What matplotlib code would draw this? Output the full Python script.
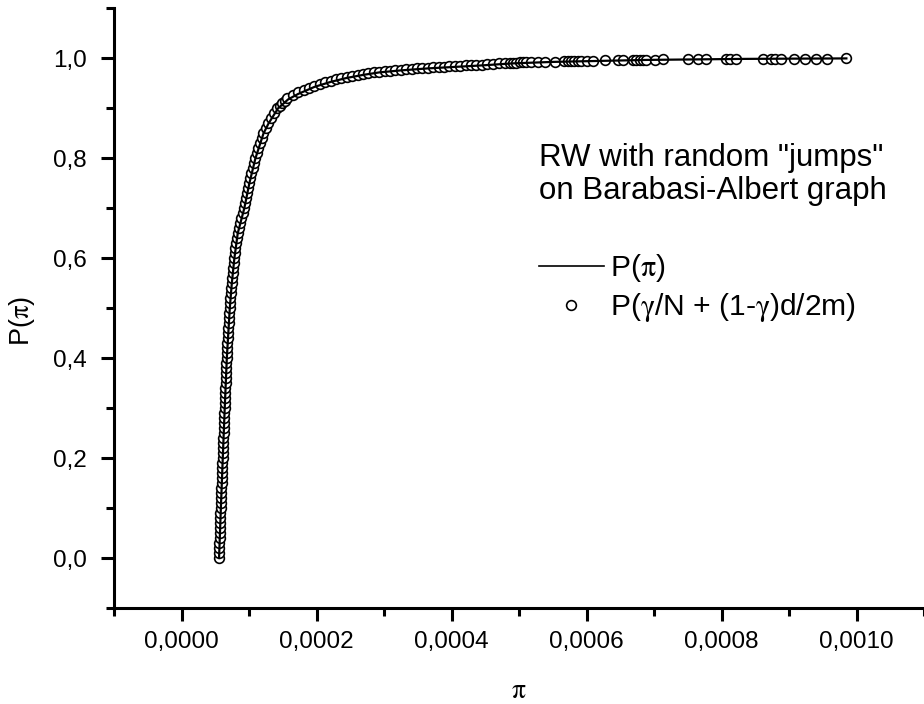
import matplotlib.pyplot as plt
import numpy as np
from matplotlib.ticker import MultipleLocator, FuncFormatter
from matplotlib.lines import Line2D

plt.rcParams['font.family'] = ['Liberation Sans', 'DejaVu Sans']
plt.rcParams['mathtext.fontset'] = 'stix'

# x values are in units of 1e-4
# P(pi) : solid line
line_x = [0.556, 0.583, 0.611, 0.640, 0.671, 0.715, 0.745, 0.783, 0.833, 0.930,
          1.005, 1.095, 1.215, 1.290, 1.430, 1.580, 1.730, 1.970, 2.210, 2.450,
          2.690, 2.930, 3.250, 3.650, 4.050, 4.450, 4.900, 5.500, 6.200, 6.900,
          7.600, 8.300, 9.000, 9.850]
line_y = [0.0, 0.1, 0.2, 0.3, 0.4, 0.5, 0.55, 0.6, 0.65, 0.7,
          0.75, 0.8, 0.85, 0.87, 0.9, 0.918, 0.929, 0.943, 0.953, 0.961,
          0.967, 0.972, 0.976, 0.980, 0.983, 0.986, 0.990, 0.993, 0.995, 0.997,
          0.998, 0.999, 0.9995, 1.0]

# P(gamma/N + (1-gamma)d/2m) : open circles
circ_x = [
    0.553, 0.556, 0.558, 0.561, 0.564, 0.567, 0.569, 0.572, 0.575, 0.577,
    0.580, 0.583, 0.586, 0.588, 0.591, 0.594, 0.597, 0.600, 0.602, 0.605,
    0.608, 0.611, 0.614, 0.617, 0.620, 0.623, 0.626, 0.628, 0.631, 0.634,
    0.637, 0.640, 0.643, 0.646, 0.649, 0.653, 0.656, 0.659, 0.662, 0.665,
    0.668, 0.672, 0.677, 0.681, 0.686, 0.690, 0.694, 0.699, 0.703, 0.708,
    0.712, 0.718, 0.724, 0.730, 0.736, 0.742, 0.749, 0.757, 0.764, 0.772,
    0.780, 0.789, 0.799, 0.809, 0.819, 0.830, 0.848, 0.867, 0.886, 0.905,
    0.925, 0.940, 0.955, 0.970, 0.985, 1.000, 1.018, 1.036, 1.054, 1.072,
    1.090, 1.114, 1.138, 1.162, 1.186, 1.210, 1.245, 1.280, 1.325, 1.372,
    1.420, 1.457, 1.495, 1.532, 1.570,
    1.65, 1.73, 1.81, 1.89, 1.97, 2.05, 2.13, 2.21, 2.29, 2.37,
    2.45, 2.53, 2.61, 2.69, 2.77, 2.85, 2.93, 3.01, 3.09, 3.17,
    3.25, 3.33, 3.41, 3.49, 3.57, 3.65, 3.73, 3.81, 3.89, 3.97,
    4.05, 4.13, 4.21, 4.29, 4.37, 4.45, 4.53, 4.61,
    4.71, 4.79, 4.86, 4.91, 4.96, 5.01, 5.06, 5.11, 5.18, 5.28,
    5.38, 5.53, 5.67, 5.72, 5.77, 5.82, 5.87, 5.92, 6.00, 6.09,
    6.27, 6.46, 6.54, 6.69, 6.74, 6.79, 6.84, 6.88, 7.01, 7.13,
    7.50, 7.65, 7.77, 8.07, 8.12, 8.22, 8.61, 8.74, 8.79, 8.88,
    9.08, 9.23, 9.40, 9.57, 9.85]
circ_y = [
    0.00, 0.01, 0.02, 0.03, 0.04, 0.05, 0.06, 0.07, 0.08, 0.09,
    0.10, 0.11, 0.12, 0.13, 0.14, 0.15, 0.16, 0.17, 0.18, 0.19,
    0.20, 0.21, 0.22, 0.23, 0.24, 0.25, 0.26, 0.27, 0.28, 0.29,
    0.30, 0.31, 0.32, 0.33, 0.34, 0.35, 0.36, 0.37, 0.38, 0.39,
    0.40, 0.41, 0.42, 0.43, 0.44, 0.45, 0.46, 0.47, 0.48, 0.49,
    0.50, 0.51, 0.52, 0.53, 0.54, 0.55, 0.56, 0.57, 0.58, 0.59,
    0.60, 0.61, 0.62, 0.63, 0.64, 0.65, 0.66, 0.67, 0.68, 0.69,
    0.70, 0.71, 0.72, 0.73, 0.74, 0.75, 0.76, 0.77, 0.78, 0.79,
    0.80, 0.81, 0.82, 0.83, 0.84, 0.85, 0.86, 0.87, 0.88, 0.89,
    0.90, 0.905, 0.91, 0.915, 0.92,
    0.926, 0.932, 0.937, 0.941, 0.945, 0.949, 0.952, 0.955, 0.958, 0.961,
    0.963, 0.965, 0.967, 0.969, 0.970, 0.972, 0.973, 0.974, 0.975, 0.976,
    0.977, 0.978, 0.979, 0.980, 0.981, 0.981, 0.982, 0.983, 0.983, 0.984,
    0.984, 0.985, 0.986, 0.986, 0.987, 0.987, 0.988, 0.989,
    0.990, 0.990, 0.991, 0.991, 0.991, 0.992, 0.992, 0.992, 0.992, 0.993,
    0.993, 0.993, 0.994, 0.994, 0.994, 0.994, 0.995, 0.995, 0.995, 0.995,
    0.996, 0.996, 0.996, 0.997, 0.997, 0.997, 0.997, 0.997, 0.997, 0.998,
    0.998, 0.998, 0.998, 0.998, 0.999, 0.999, 0.999, 0.999, 0.999, 0.999,
    0.999, 0.9995, 0.9995, 0.9995, 1.0]

scale = 1e-4

fig = plt.figure(figsize=(9.24, 7.04), dpi=100)
ax = fig.add_axes([0.1234, 0.1364, 0.8766, 0.8516])

ax.plot(np.array(circ_x) * scale, circ_y, 'o', color='black', mfc='white',
        mec='black', markersize=7, mew=1.2, zorder=2)
ax.plot(np.array(line_x) * scale, line_y, '-', color='black', lw=1.6, zorder=3)

ax.set_xlim(-0.0001, 0.0011)
ax.set_ylim(-0.1, 1.1)

for s in ['top', 'right']:
    ax.spines[s].set_visible(False)
for s in ['left', 'bottom']:
    ax.spines[s].set_linewidth(2.2)

ax.xaxis.set_major_locator(MultipleLocator(0.0002))
ax.xaxis.set_minor_locator(MultipleLocator(0.0001))
ax.yaxis.set_major_locator(MultipleLocator(0.2))
ax.yaxis.set_minor_locator(MultipleLocator(0.1))
ax.xaxis.set_major_formatter(FuncFormatter(lambda v, p: ('%.4f' % v).replace('.', ',').replace('-0,0000', '0,0000')))
ax.yaxis.set_major_formatter(FuncFormatter(lambda v, p: ('%.1f' % v).replace('.', ',').replace('-0,0', '0,0')))
ax.tick_params(which='major', direction='out', length=9.5, width=2.2, labelsize=17.5)
ax.tick_params(axis='x', which='major', pad=7)
ax.tick_params(axis='y', which='major', pad=10)
ax.tick_params(which='minor', direction='out', length=5.5, width=2.2)

ax.set_xlabel(r'$\mathrm{\pi}$', fontsize=20, labelpad=18)
ax.set_ylabel(r'P($\mathrm{\pi}$)', fontsize=19.5)
ax.yaxis.set_label_coords(-0.095, 0.478)

ax.text(0.000529, 0.830, 'RW with random "jumps"\non Barabasi-Albert graph',
        fontsize=22.5, ha='left', va='top', linespacing=1.12)

handles = [Line2D([], [], color='black', lw=1.2),
           Line2D([], [], ls='none', marker='o', mfc='white', mec='black', markersize=7, mew=1.2)]
labels = [r'P($\mathrm{\pi}$)', r'P($\mathrm{\gamma}$/N + (1-$\mathrm{\gamma}$)d/2m)']
ax.legend(handles, labels, loc='upper left', bbox_to_anchor=(518 / 924, 1 - 231 / 704),
          bbox_transform=fig.transFigure, frameon=False, fontsize=21.6,
          handlelength=2.15, handletextpad=0.2, labelspacing=0.24, borderpad=0.2)

fig.savefig('out.png', dpi=100)
